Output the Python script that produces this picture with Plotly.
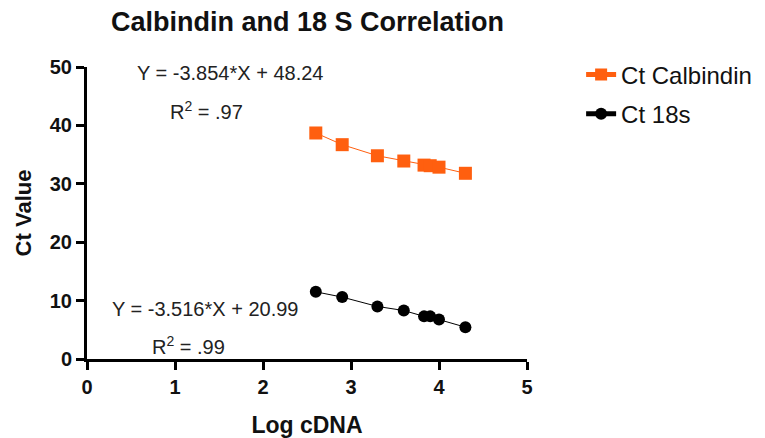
import plotly.graph_objects as go

log_cdna = [2.6, 2.9, 3.3, 3.6, 3.83, 3.9, 4.0, 4.3]
ct_calbindin = [38.7, 36.7, 34.8, 33.9, 33.2, 33.1, 32.85, 31.8]
ct_18s = [11.5, 10.6, 9.0, 8.3, 7.3, 7.3, 6.75, 5.45]

x_ticks = [0, 1, 2, 3, 4, 5]
y_ticks = [0, 10, 20, 30, 40, 50]

FONT = "Liberation Sans, Arial, sans-serif"
ORANGE = "#FF5F0F"

fig = go.Figure()
fig.add_trace(go.Scatter(
    x=log_cdna, y=ct_calbindin, name="Ct Calbindin", mode="lines+markers",
    legendgroup="a",
    line=dict(color=ORANGE, width=1),
    marker=dict(symbol="square", size=13, color=ORANGE),
))
fig.add_trace(go.Scatter(
    x=log_cdna, y=ct_18s, name="Ct 18s", mode="lines+markers",
    legendgroup="b",
    line=dict(color="black", width=1),
    marker=dict(symbol="circle", size=12, color="black"),
))

ann_font = dict(family=FONT, size=20, color="#222")
annotations = [
    dict(x=0.55, y=49.0, text="Y = -3.854*X + 48.24"),
    dict(x=0.92, y=42.6, text="R<sup>2</sup> = .97"),
    dict(x=0.26, y=8.6, text="Y = -3.516*X + 20.99"),
    dict(x=0.72, y=2.3, text="R<sup>2</sup> = .99"),
]
for a in annotations:
    fig.add_annotation(x=a["x"], y=a["y"], text=a["text"], xref="x", yref="y",
                       xanchor="left", yanchor="middle", showarrow=False, font=ann_font)

axis_common = dict(
    showline=True, linecolor="black", linewidth=3,
    ticks="outside", ticklen=8, tickwidth=3, tickcolor="black",
    showgrid=False, zeroline=False, automargin=False,
    tickfont=dict(family=FONT, size=20, color="#111", weight="bold"),
)

fig.update_layout(
    width=765, height=438,
    paper_bgcolor="white", plot_bgcolor="white",
    margin=dict(l=79, r=246, t=59, b=87),
    title=dict(text="<b>Calbindin and 18 S Correlation</b>", x=0.3915, xanchor="center",
               y=0.968, yanchor="middle", automargin=False,
               font=dict(family=FONT, size=27, color="#111")),
    xaxis=dict(range=[0, 5], tickvals=x_ticks,
               title=dict(text="<b>Log cDNA</b>", font=dict(family=FONT, size=23, color="#111"), standoff=20),
               **axis_common),
    yaxis=dict(range=[0, 50], tickvals=y_ticks,
               title=dict(text="<b>Ct Value</b>", font=dict(family=FONT, size=22, color="#111"), standoff=13),
               **axis_common),
    legend=dict(x=1.123, y=1.05, xanchor="left", yanchor="top",
                font=dict(family=FONT, size=24, color="#111"),
                tracegroupgap=5, itemsizing="constant", bgcolor="rgba(0,0,0,0)"),
    showlegend=True,
)

fig.write_html("out.html")
